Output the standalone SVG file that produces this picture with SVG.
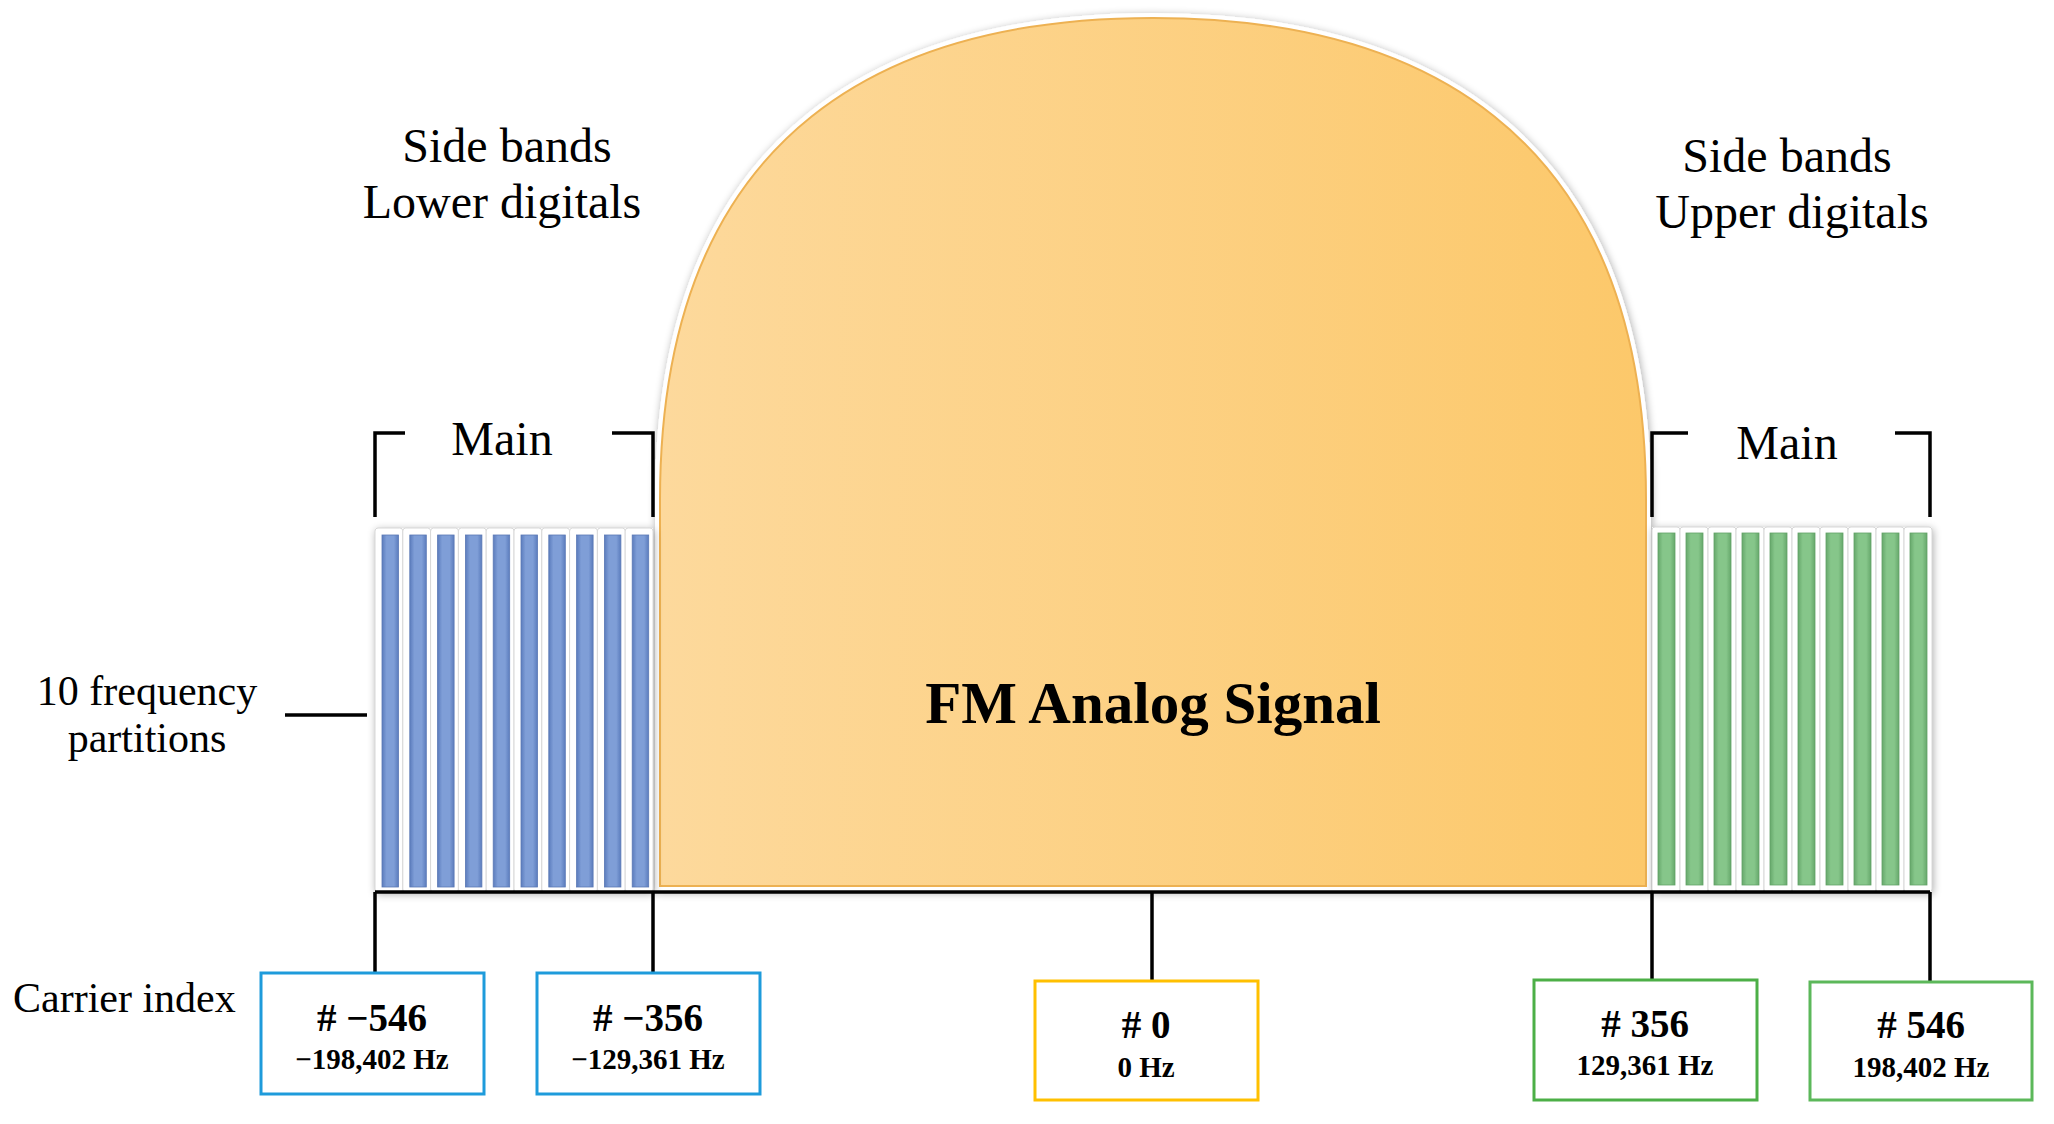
<svg xmlns="http://www.w3.org/2000/svg" width="2054" height="1124" viewBox="0 0 2054 1124">
<defs>
  <style>
    .t { font-family: "Liberation Serif", "Times New Roman", serif; fill: #000; }
    .lbl { font-size: 48px; text-anchor: middle; }
    .side { font-size: 42px; text-anchor: middle; }
    .idx { font-size: 39px; font-weight: bold; text-anchor: middle; }
    .hz { font-size: 29px; font-weight: bold; text-anchor: middle; }
    .title { font-size: 59px; font-weight: bold; text-anchor: middle; }
    .ln { stroke: #000; stroke-width: 3.5; fill: none; }
    .cell { fill: #fff; stroke: #d8d8d8; stroke-width: 1; }
    .bb { fill: url(#bg); stroke: #5A78B5; stroke-width: 0.8; }
    .gb { fill: url(#gg); stroke: #62A266; stroke-width: 0.8; }
    .box { fill: #fff; stroke-width: 3; }
  </style>
  <linearGradient id="og" x1="0" y1="0" x2="1" y2="0">
    <stop offset="0" stop-color="#FDD99C"/>
    <stop offset="1" stop-color="#FCC86A"/>
  </linearGradient>
  <linearGradient id="bg" x1="0" y1="0" x2="1" y2="0">
    <stop offset="0" stop-color="#5B7CBD"/>
    <stop offset="0.28" stop-color="#7F9ED7"/>
    <stop offset="0.72" stop-color="#7F9ED7"/>
    <stop offset="1" stop-color="#5B7CBD"/>
  </linearGradient>
  <linearGradient id="gg" x1="0" y1="0" x2="1" y2="0">
    <stop offset="0" stop-color="#66A86B"/>
    <stop offset="0.28" stop-color="#86C68A"/>
    <stop offset="0.72" stop-color="#86C68A"/>
    <stop offset="1" stop-color="#66A86B"/>
  </linearGradient>
  <filter id="sh" x="-10%" y="-10%" width="120%" height="120%">
    <feGaussianBlur in="SourceAlpha" stdDeviation="4"/>
    <feOffset dx="1" dy="2" result="o"/>
    <feComponentTransfer><feFuncA type="linear" slope="0.35"/></feComponentTransfer>
    <feMerge><feMergeNode/><feMergeNode in="SourceGraphic"/></feMerge>
  </filter>
</defs>

<rect width="2054" height="1124" fill="#fff"/>

<g id="fm-analog-signal">
  <path d="M660,886 L660,500 C660,120 900,18 1153,18 C1406,18 1646,120 1646,500 L1646,886 Z" fill="#fff" stroke="#fff" stroke-width="10" filter="url(#sh)"/>
  <path d="M660,886 L660,500 C660,120 900,18 1153,18 C1406,18 1646,120 1646,500 L1646,886 Z" fill="url(#og)" stroke="#EDB152" stroke-width="2"/>
  <text class="t title" x="1153" y="723">FM Analog Signal</text>
</g>

<g id="lower-main-band">
  <g filter="url(#sh)">
    <rect x="375" y="528" width="278" height="364" fill="#fff"/>
  </g>
  <rect class="cell" x="375" y="528" width="27.8" height="364" rx="3"/>
  <rect class="cell" x="402.8" y="528" width="27.8" height="364" rx="3"/>
  <rect class="cell" x="430.6" y="528" width="27.8" height="364" rx="3"/>
  <rect class="cell" x="458.4" y="528" width="27.8" height="364" rx="3"/>
  <rect class="cell" x="486.2" y="528" width="27.8" height="364" rx="3"/>
  <rect class="cell" x="514" y="528" width="27.8" height="364" rx="3"/>
  <rect class="cell" x="541.8" y="528" width="27.8" height="364" rx="3"/>
  <rect class="cell" x="569.6" y="528" width="27.8" height="364" rx="3"/>
  <rect class="cell" x="597.4" y="528" width="27.8" height="364" rx="3"/>
  <rect class="cell" x="625.2" y="528" width="27.8" height="364" rx="3"/>
  <rect class="bb" x="382" y="535" width="16.5" height="352"/>
  <rect class="bb" x="409.8" y="535" width="16.5" height="352"/>
  <rect class="bb" x="437.6" y="535" width="16.5" height="352"/>
  <rect class="bb" x="465.4" y="535" width="16.5" height="352"/>
  <rect class="bb" x="493.2" y="535" width="16.5" height="352"/>
  <rect class="bb" x="521" y="535" width="16.5" height="352"/>
  <rect class="bb" x="548.8" y="535" width="16.5" height="352"/>
  <rect class="bb" x="576.6" y="535" width="16.5" height="352"/>
  <rect class="bb" x="604.4" y="535" width="16.5" height="352"/>
  <rect class="bb" x="632.2" y="535" width="16.5" height="352"/>
  <text class="t lbl" x="502" y="455">Main</text>
  <text class="t lbl" x="507" y="162">Side bands</text>
  <text class="t lbl" x="502" y="218">Lower digitals</text>
</g>

<g id="upper-main-band">
  <g filter="url(#sh)">
    <rect x="1652" y="527" width="280" height="365" fill="#fff"/>
  </g>
  <rect class="cell" x="1652" y="527" width="28" height="365" rx="3"/>
  <rect class="cell" x="1680" y="527" width="28" height="365" rx="3"/>
  <rect class="cell" x="1708" y="527" width="28" height="365" rx="3"/>
  <rect class="cell" x="1736" y="527" width="28" height="365" rx="3"/>
  <rect class="cell" x="1764" y="527" width="28" height="365" rx="3"/>
  <rect class="cell" x="1792" y="527" width="28" height="365" rx="3"/>
  <rect class="cell" x="1820" y="527" width="28" height="365" rx="3"/>
  <rect class="cell" x="1848" y="527" width="28" height="365" rx="3"/>
  <rect class="cell" x="1876" y="527" width="28" height="365" rx="3"/>
  <rect class="cell" x="1904" y="527" width="28" height="365" rx="3"/>
  <rect class="gb" x="1658" y="533" width="17" height="352"/>
  <rect class="gb" x="1686" y="533" width="17" height="352"/>
  <rect class="gb" x="1714" y="533" width="17" height="352"/>
  <rect class="gb" x="1742" y="533" width="17" height="352"/>
  <rect class="gb" x="1770" y="533" width="17" height="352"/>
  <rect class="gb" x="1798" y="533" width="17" height="352"/>
  <rect class="gb" x="1826" y="533" width="17" height="352"/>
  <rect class="gb" x="1854" y="533" width="17" height="352"/>
  <rect class="gb" x="1882" y="533" width="17" height="352"/>
  <rect class="gb" x="1910" y="533" width="17" height="352"/>
  <text class="t lbl" x="1787" y="459">Main</text>
  <text class="t lbl" x="1787" y="172">Side bands</text>
  <text class="t lbl" x="1792" y="228">Upper digitals</text>
</g>

<g id="partitions-label">
  <text class="t side" x="147" y="705">10 frequency</text>
  <text class="t side" x="147" y="752">partitions</text>
</g>

<g id="carrier-index-label">
  <text class="t" x="13" y="1012" style="font-size:42px">Carrier index</text>
</g>

<g id="connectors">
  <line class="ln" x1="285" y1="715" x2="367" y2="715" stroke-width="5"/>
  <path class="ln" d="M405,433 H375 V517 M612,433 H653 V517"/>
  <path class="ln" d="M1688,433 H1652 V517 M1895,433 H1930 V517"/>
  <line class="ln" x1="375" y1="892" x2="1930" y2="892" stroke-width="3"/>
  <line class="ln" x1="375" y1="892" x2="375" y2="973"/>
  <line class="ln" x1="653" y1="892" x2="653" y2="973"/>
  <line class="ln" x1="1152" y1="892" x2="1152" y2="980"/>
  <line class="ln" x1="1652" y1="892" x2="1652" y2="979"/>
  <line class="ln" x1="1930" y1="892" x2="1930" y2="981"/>
</g>

<g id="carrier-n546">
  <rect class="box" x="261" y="973" width="223" height="121" stroke="#1E9BDB"/>
  <text class="t idx" x="372" y="1031"># −546</text>
  <text class="t hz" x="372" y="1069">−198,402 Hz</text>
</g>
<g id="carrier-n356">
  <rect class="box" x="537" y="973" width="223" height="121" stroke="#1E9BDB"/>
  <text class="t idx" x="648" y="1031"># −356</text>
  <text class="t hz" x="648" y="1069">−129,361 Hz</text>
</g>
<g id="carrier-0">
  <rect class="box" x="1035" y="981" width="223" height="119" stroke="#FFC000"/>
  <text class="t idx" x="1146" y="1038"># 0</text>
  <text class="t hz" x="1146" y="1077">0 Hz</text>
</g>
<g id="carrier-356">
  <rect class="box" x="1534" y="980" width="223" height="120" stroke="#4CAF47"/>
  <text class="t idx" x="1645" y="1037"># 356</text>
  <text class="t hz" x="1645" y="1075">129,361 Hz</text>
</g>
<g id="carrier-546">
  <rect class="box" x="1810" y="982" width="222" height="118" stroke="#5CB85A"/>
  <text class="t idx" x="1921" y="1038"># 546</text>
  <text class="t hz" x="1921" y="1077">198,402 Hz</text>
</g>
</svg>
